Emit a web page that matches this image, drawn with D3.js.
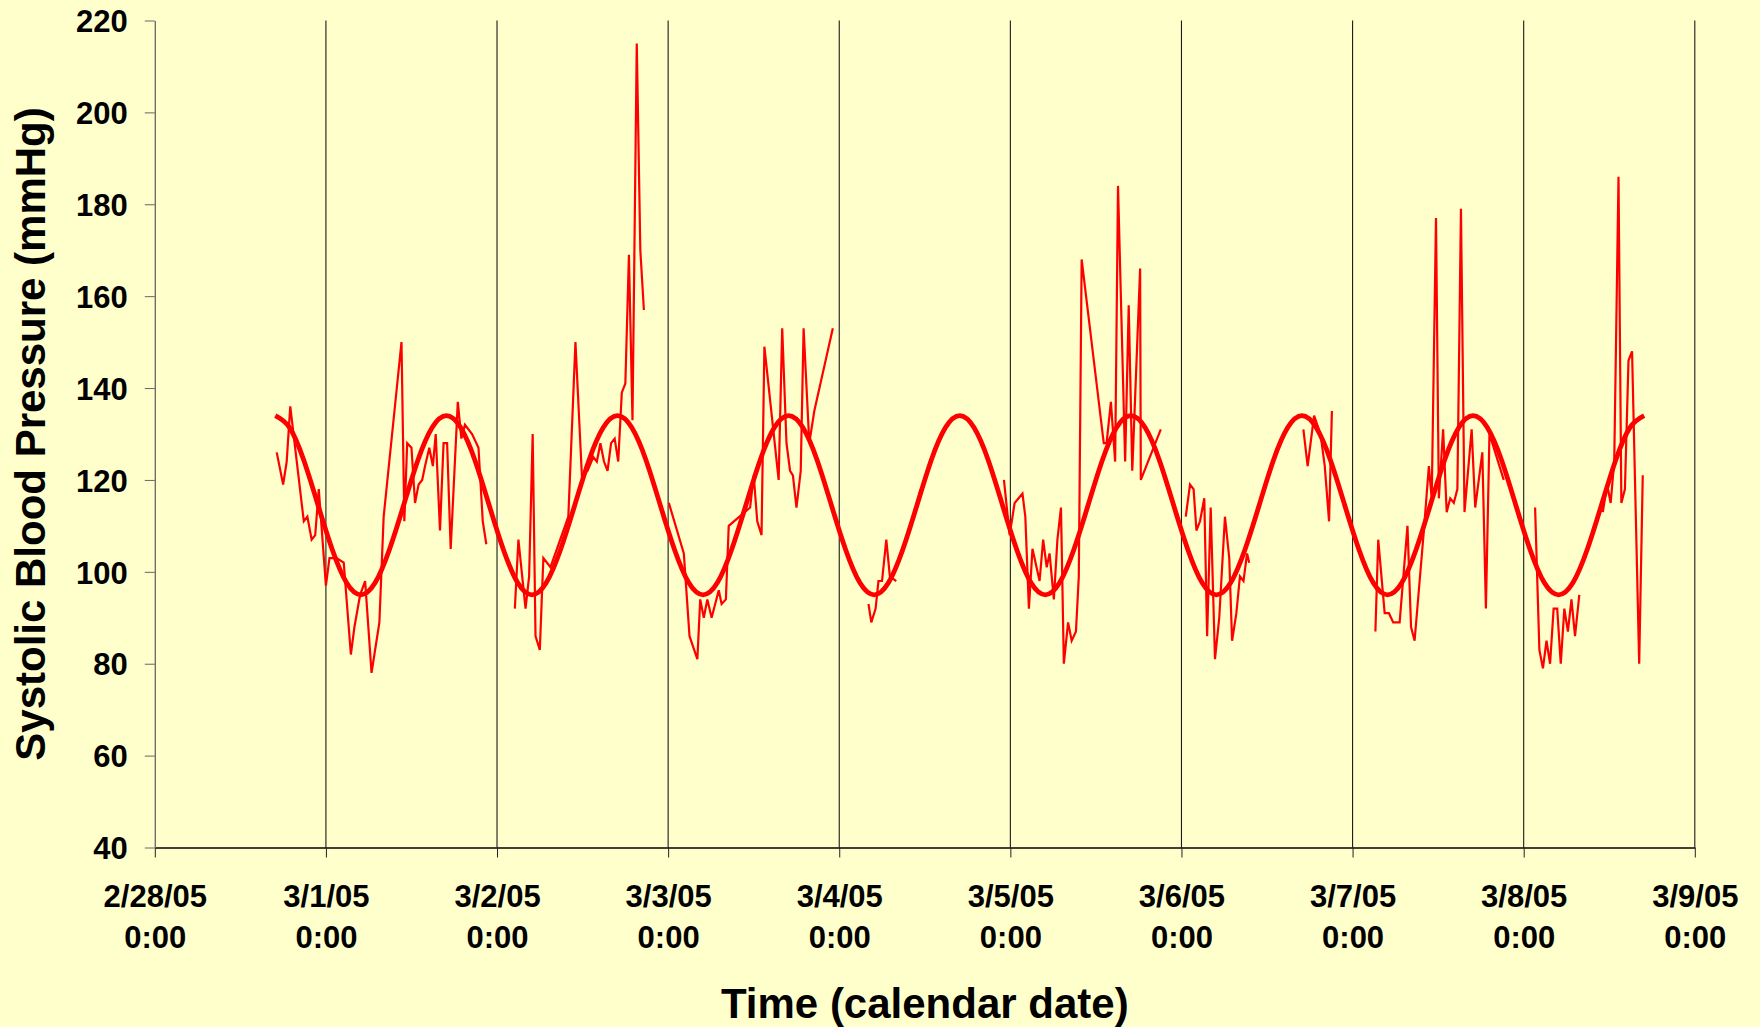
<!DOCTYPE html>
<html>
<head>
<meta charset="utf-8">
<script src="https://cdn.jsdelivr.net/npm/d3@7"></script>
<style>
    html, body { margin: 0; padding: 0; background: #ffffcc; }
    svg { display: block; }
    text { font-family: "Liberation Sans", Arial, sans-serif; font-weight: bold; fill: #000; }
</style>
</head>
<body>
<svg id="chart" width="1760" height="1027"></svg>
<script>
// time axis runs from 2/28/05 0:00 to 3/9/05 0:00
const startDate = new Date(2005, 1, 28);
const endDate = new Date(2005, 2, 9);
const yTicks = [40, 60, 80, 100, 120, 140, 160, 180, 200, 220];

// measured readings: hours after 2/28/05 0:00, null marks a gap in the record
const readingHours = [
    17.1, 18.0, 18.5, 19.0, 20.9, 21.4, 22.0, 22.5, 23.0, 24.0, 24.5, 25.5, 26.5, 27.5, 28.0, 28.8, 29.5,
    30.4, 31.1, 31.5, 32.1, 34.6, 35.0, 35.4, 36.0, 36.5, 37.0, 37.5, 37.9, 38.5, 39.0, 39.4, 40.0, 40.5,
    41.0, 41.5, 42.5, 43.0, 43.5, 44.5, 45.4, 46.0, 46.5, null,
    50.5, 51.0, 52.0, 52.5, 53.0, 53.4, 54.0, 54.5, 55.5, 58.0, 59.0, 59.9, 60.7, 61.5, 62.0, 62.5, 63.0,
    63.5, 64.0, 64.5, 65.0, 65.5, 66.0, 66.5, 67.0, 67.6, 68.1, 68.6, null,
    72.1, 74.2, 75.0, 76.1, 76.5, 77.0, 77.5, 78.1, 79.1, 79.5, 80.1, 80.5, 83.5, 84.0, 84.5, 85.1, 85.5,
    87.5, 88.0, 88.6, 89.1, 89.5, 90.0, 90.6, 91.0, 91.8, 92.5, 95.1, null,
    100.1, 100.5, 101.1, 101.5, 102.0, 102.6, 103.1, 104.0, null,
    106.8, 107.4, null,
    119.1, 119.9, 120.6, 121.7, 122.1, 122.6, 123.1, 124.1, 124.6, 125.1, 125.5, 126.1, 126.6, 127.1, 127.5,
    128.1, 128.6, 129.2, 129.6, 130.0, 133.1, 133.5, 134.1, 134.7, 135.1, 136.1, 136.6, 137.1, 138.2, 138.3,
    141.1, null,
    144.6, 145.2, 145.7, 146.1, 146.6, 147.2, 147.6, 148.1, 148.7, 149.3, 150.1, 150.7, 151.1, 151.7, 152.2,
    152.7, 153.2, 153.5, null,
    161.1, 161.7, 162.6, 163.5, 164.1, 164.7, 165.1, null,
    171.2, 171.6, 172.5, 173.1, 173.7, 174.6, 175.7, 176.2, 176.7, 178.0, 178.7, 179.1, 179.7, 180.1, 180.7,
    181.2, 181.7, 182.2, 182.7, 183.2, 183.7, 184.7, 185.2, 186.2, 186.7, 187.2, 189.2, null,
    193.6, 194.2, 194.7, 195.2, 195.7, 196.2, 196.7, 197.2, 197.7, 198.2, 198.7, 199.2, 199.8, null,
    203.1, 203.7, 204.2, 204.7, 205.3, 205.7, 206.2, 206.7, 207.2, 208.2, 208.7
];
const readingValues = [
    126, 119, 124, 136, 111, 112, 107, 108, 118, 97, 103, 103, 102, 82, 88, 95, 98,
    78, 85, 89, 112, 150, 111, 128, 127, 115, 119, 120, 123, 127, 123, 130, 109, 128,
    128, 105, 137, 129, 132, 130, 127, 111, 106, null,
    92, 107, 92, 99, 130, 86, 83, 103, 101, 112, 150, 121, 122, 125, 124, 128, 124,
    122, 128, 129, 124, 139, 141, 169, 133, 215, 170, 157, null,
    115, 104, 86, 81, 94, 90, 94, 90, 96, 93, 94, 110, 114, 121, 111, 108, 149,
    120, 153, 128, 122, 121, 114, 122, 153, 128, 135, 153, null,
    93, 89, 92, 98, 98, 107, 99, 98, null,
    114, 118, null,
    120, 108, 115, 117, 112, 92, 105, 98, 107, 101, 104, 94, 107, 114, 80,
    89, 85, 87, 99, 168, 128, 128, 137, 124, 184, 124, 158, 122, 166, 120,
    131, null,
    112, 119, 118, 109, 111, 116, 86, 114, 81, 90, 112, 103, 85, 91, 99,
    98, 104, 102, null,
    131, 123, 134, 130, 123, 111, 135, null,
    87, 107, 91, 91, 89, 89, 110, 88, 85, 109, 123, 116, 177, 116, 131,
    113, 116, 115, 118, 179, 113, 131, 114, 126, 92, 130, 120, null,
    114, 83, 79, 85, 80, 92, 92, 80, 92, 87, 94, 86, 95, null,
    113, 119, 115, 124, 186, 115, 118, 146, 148, 80, 121
];

// fitted daily curve: one day's profile from peak to peak
const fitProfileHours = [0, 2, 4, 6, 8, 10, 12, 14, 16, 18, 20, 22, 24];
const fitProfileValues = [134, 131.4, 124.3, 114.5, 104.8, 97.6, 95, 97.6, 104.8, 114.5, 124.3, 131.4, 134];
// hour of each daily peak where a cycle of the fit starts
const fitPeakHours = [16.9, 40.9, 64.9, 88.9, 112.9, 136.9, 160.9, 184.9];

const width = 1760;
const height = 1027;
const margin = { top: 20.5, right: 65.2, bottom: 179.5, left: 154.8 };
const chartWidth = width - margin.left - margin.right;
const chartHeight = height - margin.top - margin.bottom;

const toDate = h => new Date(startDate.getTime() + h * 3600000);

const readings = readingHours.map((h, i) => ({ t: h === null ? null : toDate(h), v: readingValues[i] }));

const fitPoints = [];
fitPeakHours.forEach((p, k) => {
    fitProfileHours.forEach((h, i) => {
        if (k > 0 && i === 0) return;
        fitPoints.push({ t: toDate(p + h), v: fitProfileValues[i] });
    });
});

const svg = d3.select('#chart');
svg.append('rect').attr('width', width).attr('height', height).attr('fill', '#ffffcc');

const chart = svg.append('g')
    .attr('transform', `translate(${margin.left},${margin.top})`);

const xScale = d3.scaleTime().domain([startDate, endDate]).range([0, chartWidth]);
const yScale = d3.scaleLinear().domain([40, 220]).range([chartHeight, 0]);
const days = d3.timeDay.range(startDate, d3.timeDay.offset(endDate, 1));

// vertical day gridlines
chart.append('g')
    .classed('gridline', true)
    .selectAll('line')
    .data(days.slice(1))
    .enter()
    .append('line')
    .attr('x1', d => xScale(d))
    .attr('x2', d => xScale(d))
    .attr('y1', 0)
    .attr('y2', chartHeight)
    .attr('stroke', '#1a1a1a')
    .attr('stroke-width', 1.1);

// x axis with two-line date labels
const xAxis = d3.axisBottom(xScale)
    .tickValues(days)
    .tickSize(10)
    .tickSizeOuter(0)
    .tickFormat('');

const xg = chart.append('g')
    .classed('x axis', true)
    .attr('transform', `translate(0,${chartHeight})`)
    .call(xAxis);
xg.select('.domain').attr('stroke', '#000').attr('stroke-width', 1.3);
xg.selectAll('.tick line').attr('stroke', '#222');

const dateFmt = d3.timeFormat('%-m/%-d/%y');
const timeFmt = d3.timeFormat('%-H:%M');
const xLabel = xg.selectAll('.tick')
    .append('text')
    .style('font-size', '31px')
    .style('font-family', '"Liberation Sans", Arial, sans-serif')
    .attr('fill', '#000')
    .attr('text-anchor', 'middle');
xLabel.append('tspan').attr('x', 0).attr('y', 59).text(d => dateFmt(d));
xLabel.append('tspan').attr('x', 0).attr('y', 100).text(d => timeFmt(d));

// y axis
const yAxis = d3.axisLeft(yScale)
    .tickValues(yTicks)
    .tickSize(10)
    .tickSizeOuter(0)
    .tickPadding(17);

const yg = chart.append('g')
    .classed('y axis', true)
    .call(yAxis);
yg.select('.domain').attr('stroke', '#666').attr('stroke-width', 1.3);
yg.selectAll('.tick line').attr('stroke', '#666');
yg.selectAll('.tick text')
    .attr('fill', '#000')
    .attr('dy', '0.36em')
    .style('font-size', '31px')
    .style('font-family', '"Liberation Sans", Arial, sans-serif');

// measured readings
const readingLine = d3.line()
    .defined(d => d.v !== null)
    .x(d => xScale(d.t))
    .y(d => yScale(d.v));

chart.append('path')
    .datum(readings)
    .attr('fill', 'none')
    .attr('stroke', '#ff0000')
    .attr('stroke-width', 2.2)
    .attr('d', readingLine);

// fitted curve
const fitLine = d3.line()
    .x(d => xScale(d.t))
    .y(d => yScale(d.v))
    .curve(d3.curveNatural);

chart.append('path')
    .datum(fitPoints)
    .attr('fill', 'none')
    .attr('stroke', '#ff0000')
    .attr('stroke-width', 4.8)
    .attr('d', fitLine);

// titles
svg.append('text')
    .attr('x', margin.left + chartWidth / 2)
    .attr('y', 1018)
    .attr('text-anchor', 'middle')
    .style('font-size', '42px')
    .text('Time (calendar date)');

svg.append('text')
    .attr('transform', `translate(45,${margin.top + chartHeight / 2}) rotate(-90)`)
    .attr('text-anchor', 'middle')
    .style('font-size', '42px')
    .text('Systolic Blood Pressure (mmHg)');
</script>
</body>
</html>
